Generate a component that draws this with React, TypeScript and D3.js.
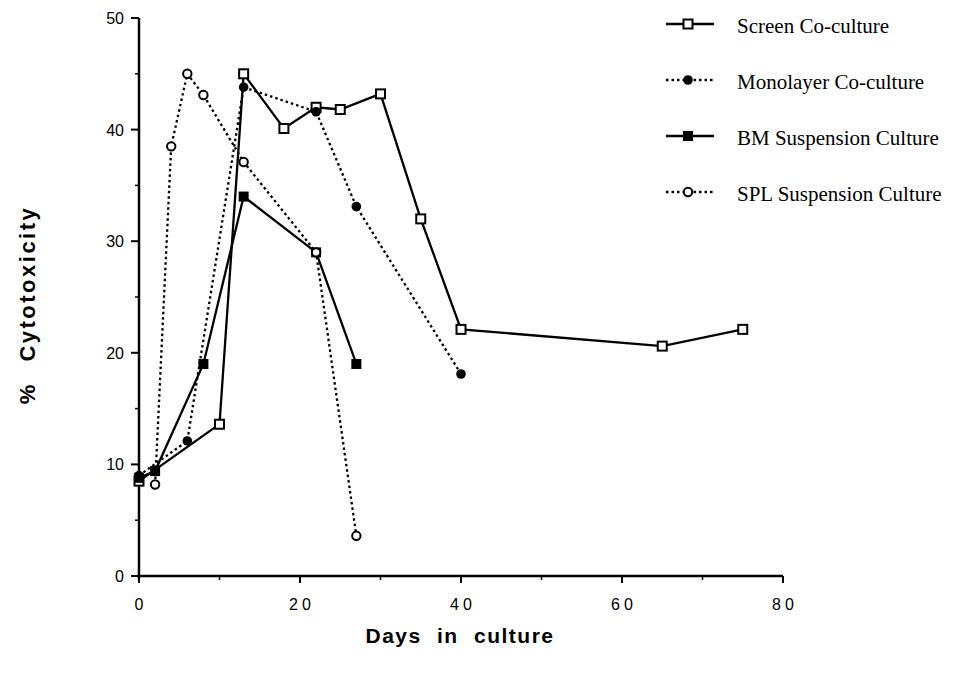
import React from 'react';
import * as d3 from 'd3';

const width = 956, height = 679,
    margin = { top: 18, right: 173, left: 139, bottom: 103 };

// days in culture and % cytotoxicity
const screenDays = [0, 10, 13, 18, 22, 25, 30, 35, 40, 65, 75];
const screenVals = [8.5, 13.6, 45, 40.1, 42, 41.8, 43.2, 32, 22.1, 20.6, 22.1];

const monoDays = [0, 6, 13, 22, 27, 40];
const monoVals = [9, 12.1, 43.8, 41.6, 33.1, 18.1];

const bmDays = [0, 2, 8, 13, 22, 27];
const bmVals = [8.8, 9.4, 19, 34, 29, 19];

const splDays = [2, 4, 6, 8, 13, 22, 27];
const splVals = [8.2, 38.5, 45, 43.1, 37.1, 29, 3.6];

const xTicks = [0, 20, 40, 60, 80];
const xMinor = [10, 30, 50, 70];
const yTicks = [0, 10, 20, 30, 40, 50];
const yMinor = [5, 15, 25, 35, 45];

const seriesNames = ['Screen Co-culture', 'Monolayer Co-culture', 'BM Suspension Culture', 'SPL Suspension Culture'];

const xScale = d3.scaleLinear().domain([0, 80]).range([margin.left, width - margin.right]);
const yScale = d3.scaleLinear().domain([0, 50]).range([height - margin.bottom, margin.top]);

const toPoints = (days: number[], vals: number[]) => days.map((d, i) => ({ day: d, value: vals[i] }));

const series = [
    { name: seriesNames[0], points: toPoints(screenDays, screenVals), dash: null, marker: 'openSquare' },
    { name: seriesNames[1], points: toPoints(monoDays, monoVals), dash: '2.5,3', marker: 'dot' },
    { name: seriesNames[2], points: toPoints(bmDays, bmVals), dash: null, marker: 'square' },
    { name: seriesNames[3], points: toPoints(splDays, splVals), dash: '2.5,3', marker: 'openCircle' },
];

const line = d3.line<{ day: number, value: number }>()
    .x(d => xScale(d.day))
    .y(d => yScale(d.value));

function Marker({ type, x, y }: { type: string, x: number, y: number }) {
    if (type === 'openSquare')
        return <rect x={x - 4.5} y={y - 4.5} width={9} height={9} fill="#fff" stroke="#000" strokeWidth={2} />;
    if (type === 'square')
        return <rect x={x - 5} y={y - 5} width={10} height={10} fill="#000" />;
    if (type === 'dot')
        return <circle cx={x} cy={y} r={4.8} fill="#000" />;
    return <circle cx={x} cy={y} r={4.2} fill="#fff" stroke="#000" strokeWidth={2} />;
}

export default function App() {
    const x0 = xScale(0), y0 = yScale(0);
    const sans = '"Liberation Sans", Arial, sans-serif';
    return (
        <svg width={width} height={height} style={{ position: 'absolute', left: 0, top: 0, background: '#fff' }}>
            {/* axes */}
            <line x1={x0} x2={x0} y1={yScale(50)} y2={y0 + 3} stroke="#000" strokeWidth={2.5} />
            <line x1={x0 - 2} x2={xScale(80)} y1={y0} y2={y0} stroke="#000" strokeWidth={2.5} />
            {yTicks.map(t => (
                <g key={'y' + t}>
                    <line x1={x0 - 8} x2={x0} y1={yScale(t)} y2={yScale(t)} stroke="#000" strokeWidth={2} />
                    <text x={x0 - 15} y={yScale(t) + 6} textAnchor="end" fontFamily={sans} fontSize={16}>{t}</text>
                </g>
            ))}
            {yMinor.map(t => (
                <line key={'ym' + t} x1={x0 - 4} x2={x0} y1={yScale(t)} y2={yScale(t)} stroke="#000" strokeWidth={1.5} />
            ))}
            {xTicks.map(t => (
                <g key={'x' + t}>
                    <line x1={xScale(t)} x2={xScale(t)} y1={y0} y2={y0 + 7} stroke="#000" strokeWidth={2} />
                    <text x={xScale(t) + 2} y={y0 + 34} textAnchor="middle" fontFamily={sans} fontSize={16}
                        letterSpacing={4}>{t}</text>
                </g>
            ))}
            {xMinor.map(t => (
                <line key={'xm' + t} x1={xScale(t)} x2={xScale(t)} y1={y0} y2={y0 + 4} stroke="#000" strokeWidth={1.5} />
            ))}

            {/* axis titles */}
            <text x={460} y={643} textAnchor="middle" fontFamily={sans} fontWeight="bold" fontSize={21}
                letterSpacing={1.5} wordSpacing={8}>Days in culture</text>
            <text transform="translate(35, 305) rotate(-90)" textAnchor="middle" fontFamily={sans}
                fontWeight="bold" fontSize={22} letterSpacing={2.5} wordSpacing={12}>% Cytotoxicity</text>

            {/* series */}
            {series.map(s => (
                <path key={s.name} d={line(s.points) || ''} fill="none" stroke="#000" strokeWidth={2.3}
                    strokeDasharray={s.dash || undefined} />
            ))}
            {series.map(s => s.points.map((p, i) => (
                <Marker key={s.name + i} type={s.marker} x={xScale(p.day)} y={yScale(p.value)} />
            )))}

            {/* legend */}
            {series.map((s, i) => {
                const ly = 24 + i * 56;
                return (
                    <g key={'lg' + s.name}>
                        <line x1={666} x2={714} y1={ly} y2={ly} stroke="#000" strokeWidth={2.3}
                            strokeDasharray={s.dash || undefined} />
                        <Marker type={s.marker} x={688} y={ly} />
                        <text x={737} y={ly + 9} fontFamily='"Liberation Serif", "Times New Roman", serif'
                            fontSize={21}>{s.name}</text>
                    </g>
                );
            })}
        </svg>
    );
}
